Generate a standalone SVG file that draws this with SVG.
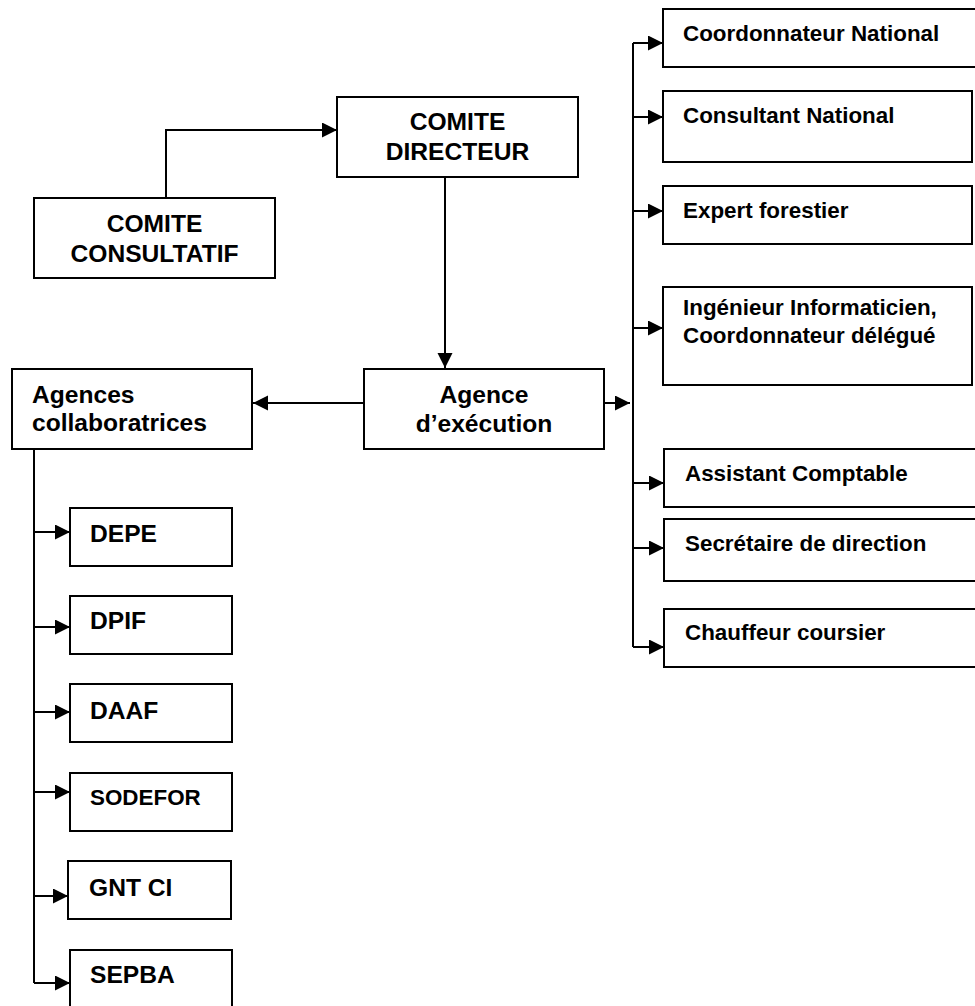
<svg xmlns="http://www.w3.org/2000/svg" width="975" height="1006" viewBox="0 0 975 1006">
<defs>
<marker id="ah" markerUnits="userSpaceOnUse" markerWidth="16" markerHeight="16" refX="15" refY="7.5" orient="auto">
<path d="M0,0 L15,7.5 L0,15 z" fill="#000"/>
</marker>
<style>
.box{fill:#fff;stroke:#000;stroke-width:2}
.t{font-family:"Liberation Sans",Arial,sans-serif;font-weight:bold;fill:#000}
.big{font-size:24.6px}
.sm{font-size:22.4px}
.c{text-anchor:middle}
.ln{fill:none;stroke:#000;stroke-width:2}
.ar{fill:none;stroke:#000;stroke-width:2;marker-end:url(#ah)}
</style>
</defs>
<rect width="975" height="1006" fill="#fff"/>
<g id="connectors">
<path class="ar" d="M166,198 V130 H337"/>
<path class="ar" d="M445,177 V368"/>
<path class="ar" d="M364,403 H253"/>
<path class="ar" d="M604,403 H630"/>
<path class="ln" d="M633,43 V647"/>
<path class="ar" d="M633,43 H663"/>
<path class="ar" d="M633,117 H663"/>
<path class="ar" d="M633,211 H663"/>
<path class="ar" d="M633,328 H663"/>
<path class="ar" d="M633,483 H664"/>
<path class="ar" d="M633,548 H664"/>
<path class="ar" d="M633,647 H664"/>
<path class="ln" d="M34,449 V983"/>
<path class="ar" d="M34,532 H70"/>
<path class="ar" d="M34,627 H70"/>
<path class="ar" d="M34,712 H70"/>
<path class="ar" d="M34,792 H70"/>
<path class="ar" d="M34,896 H68"/>
<path class="ar" d="M34,983 H70"/>
</g>
<g id="comite-consultatif">
<rect class="box" x="34" y="198" width="241" height="80"/>
<text class="t big c" x="154.5" y="232">COMITE</text>
<text class="t big c" x="154.5" y="262">CONSULTATIF</text>
</g>
<g id="comite-directeur">
<rect class="box" x="337" y="97" width="241" height="80"/>
<text class="t big c" x="457.5" y="130">COMITE</text>
<text class="t big c" x="457.5" y="160">DIRECTEUR</text>
</g>
<g id="agence-execution">
<rect class="box" x="364" y="369" width="240" height="80"/>
<text class="t big c" x="484" y="403">Agence</text>
<text class="t big c" x="484" y="432">d’exécution</text>
</g>
<g id="agences-collaboratrices">
<rect class="box" x="12" y="369" width="240" height="80"/>
<text class="t big" x="32" y="403">Agences</text>
<text class="t big" x="32" y="431">collaboratrices</text>
</g>
<g id="depe">
<rect class="box" x="70" y="508" width="162" height="58"/>
<text class="t big" x="90" y="542">DEPE</text>
</g>
<g id="dpif">
<rect class="box" x="70" y="596" width="162" height="58"/>
<text class="t big" x="90" y="629">DPIF</text>
</g>
<g id="daaf">
<rect class="box" x="70" y="684" width="162" height="58"/>
<text class="t big" x="90" y="719">DAAF</text>
</g>
<g id="sodefor">
<rect class="box" x="70" y="773" width="162" height="58"/>
<text class="t sm" x="90" y="805">SODEFOR</text>
</g>
<g id="gnt-ci">
<rect class="box" x="68" y="861" width="163" height="58"/>
<text class="t big" x="89" y="896">GNT CI</text>
</g>
<g id="sepba">
<rect class="box" x="70" y="950" width="162" height="70"/>
<text class="t big" x="90" y="983">SEPBA</text>
</g>
<g id="coordonnateur-national">
<rect class="box" x="663" y="9" width="330" height="58"/>
<text class="t sm" x="683" y="41">Coordonnateur National</text>
</g>
<g id="consultant-national">
<rect class="box" x="663" y="91" width="309" height="71"/>
<text class="t sm" x="683" y="123">Consultant National</text>
</g>
<g id="expert-forestier">
<rect class="box" x="663" y="186" width="309" height="58"/>
<text class="t sm" x="683" y="218">Expert forestier</text>
</g>
<g id="ingenieur-informaticien">
<rect class="box" x="663" y="287" width="309" height="98"/>
<text class="t sm" x="683" y="315">Ingénieur Informaticien,</text>
<text class="t sm" x="683" y="343">Coordonnateur délégué</text>
</g>
<g id="assistant-comptable">
<rect class="box" x="664" y="449" width="330" height="58"/>
<text class="t sm" x="685" y="481">Assistant Comptable</text>
</g>
<g id="secretaire-direction">
<rect class="box" x="664" y="519" width="330" height="62"/>
<text class="t sm" x="685" y="551">Secrétaire de direction</text>
</g>
<g id="chauffeur-coursier">
<rect class="box" x="664" y="609" width="330" height="58"/>
<text class="t sm" x="685" y="640">Chauffeur coursier</text>
</g>
</svg>
